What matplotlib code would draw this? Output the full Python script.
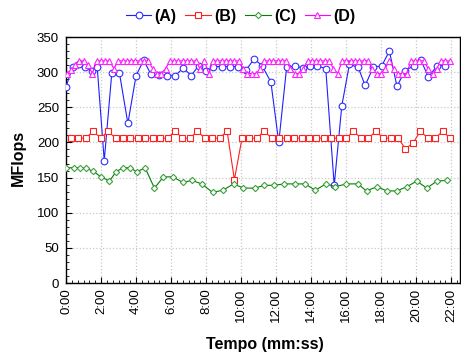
import matplotlib
matplotlib.use("Agg")
import matplotlib.pyplot as plt
from matplotlib.ticker import MultipleLocator, FuncFormatter

plt.rcParams['font.family'] = ['Liberation Sans', 'DejaVu Sans']

# ---- data (time in seconds, values in MFlops) ----
t_a = [0, 23, 45, 66, 88, 107, 131, 157, 183, 212, 240, 266, 291, 319, 345, 374, 402, 429,
       454, 480, 505, 534, 562, 591, 617, 645, 672, 702, 729, 756, 785, 811, 835, 861, 890,
       919, 945, 971, 1001, 1025, 1053, 1082, 1108, 1134, 1162, 1191, 1216, 1242, 1271, 1298]
v_a = [279, 308, 312, 307, 302, 307, 174, 299, 299, 227, 295, 317, 297, 296, 295, 295, 306, 295,
       309, 301, 308, 308, 308, 308, 303, 319, 309, 286, 200, 307, 309, 306, 309, 309, 305,
       139, 252, 311, 307, 281, 307, 309, 330, 280, 302, 309, 317, 293, 309, 309]

t_b = [17, 42, 68, 93, 119, 144, 170, 195, 221, 246, 272, 297, 323, 348, 374, 399, 425, 450,
       476, 501, 526, 552, 577, 603, 628, 654, 679, 705, 730, 756, 781, 807, 832, 858, 883,
       909, 934, 960, 985, 1011, 1036, 1062, 1087, 1112, 1138, 1163, 1189, 1214, 1240, 1265,
       1291, 1316]
v_b = [206, 206, 206, 216, 206, 216, 206, 206, 206, 206, 206, 206, 206, 206, 216, 206, 206, 216,
       206, 206, 206, 216, 147, 206, 206, 206, 216, 206, 206, 206, 206, 206, 206, 206, 206,
       206, 206, 206, 216, 206, 206, 216, 206, 206, 206, 191, 199, 216, 206, 206, 216, 206]

t_c = [0, 26, 48, 69, 93, 120, 149, 171, 195, 219, 243, 271, 303, 334, 367, 400, 431, 465,
       502, 538, 574, 608, 646, 680, 714, 748, 783, 819, 854, 891, 923, 961, 999, 1030, 1065,
       1100, 1134, 1168, 1202, 1236, 1271, 1306]
v_c = [164, 164, 164, 163, 159, 151, 145, 158, 164, 164, 158, 164, 135, 151, 151, 143, 146, 141,
       129, 132, 141, 135, 135, 139, 139, 141, 141, 141, 132, 141, 137, 141, 141, 131, 137,
       131, 131, 137, 145, 135, 145, 146]

t_d = [2, 17, 31, 46, 61, 76, 90, 105, 120, 135, 149, 164, 179, 194, 208, 223, 238, 253, 267,
       282, 297, 312, 326, 341, 356, 371, 385, 400, 415, 430, 444, 459, 474, 489, 503, 518,
       533, 548, 562, 577, 592, 607, 621, 636, 651, 666, 680, 695, 710, 725, 739, 754, 769,
       784, 798, 813, 828, 843, 857, 872, 887, 902, 916, 931, 946, 961, 975, 990, 1005, 1020,
       1034, 1049, 1064, 1079, 1093, 1108, 1123, 1138, 1152, 1167, 1182, 1197, 1211, 1226,
       1241, 1256, 1270, 1285, 1300, 1315]
v_d = [298, 303, 310, 316, 316, 310, 298, 316, 316, 316, 316, 305, 316, 316, 316, 316, 316, 316,
       316, 316, 305, 298, 298, 305, 316, 316, 316, 316, 316, 316, 316, 305, 316, 298, 316,
       316, 316, 316, 316, 316, 316, 305, 298, 298, 298, 305, 316, 316, 316, 316, 316, 316,
       305, 298, 298, 305, 316, 316, 316, 316, 316, 316, 305, 298, 316, 316, 316, 316, 316,
       316, 316, 305, 298, 298, 305, 316, 305, 298, 298, 298, 316, 316, 316, 316, 305, 298,
       305, 316, 316, 316]

series_labels = ['(A)', '(B)', '(C)', '(D)']
x_ticks_sec = list(range(0, 1321, 120))
y_ticks = list(range(0, 351, 50))

# ---- figure ----
fig = plt.figure(figsize=(4.61, 3.54), dpi=100)
ax = fig.add_axes([66/461, 71/354, 394/461, 246/354])

lw = 0.8
mew = 0.8
ax.plot(t_a, v_a, color='#1f1fff', lw=lw, marker='o', ms=4.8, mfc='white', mec='#3030ff',
        mew=mew, label=series_labels[0], zorder=3)
ax.plot(t_b, v_b, color='#ff1f1f', lw=lw, marker='s', ms=4.2, mfc='white', mec='#ff2020',
        mew=mew, label=series_labels[1], zorder=3)
ax.plot(t_c, v_c, color='#008000', lw=lw, marker='D', ms=3.2, mfc='white', mec='#40a040',
        mew=mew, label=series_labels[2], zorder=3)
ax.plot(t_d, v_d, color='#ff00ff', lw=lw, marker='^', ms=5.0, mfc='white', mec='#ff20ff',
        mew=mew, label=series_labels[3], zorder=3)

ax.set_xlim(0, 1350)
ax.set_ylim(0, 350)
ax.set_xticks(x_ticks_sec)
ax.xaxis.set_major_formatter(FuncFormatter(lambda v, p: f"{int(v)//60}:{int(v)%60:02d}"))
ax.xaxis.set_minor_locator(MultipleLocator(20))
ax.set_yticks(y_ticks)
ax.yaxis.set_minor_locator(MultipleLocator(10))

ax.tick_params(which='both', direction='in', top=False, right=False, color='black')
ax.tick_params(which='major', length=4, width=0.8)
ax.tick_params(which='minor', length=2, width=0.6)
ax.tick_params(axis='y', labelsize=9.5, pad=5)
ax.tick_params(axis='x', labelsize=9.5, pad=4, labelrotation=90)

ax.grid(True, which='major', color='#c8c8c8', linestyle=':', linewidth=0.9)
ax.set_axisbelow(True)
for s in ax.spines.values():
    s.set_color('black')
    s.set_linewidth(1.0)

ax.set_xlabel('Tempo (mm:ss)', fontsize=11.5, fontweight='bold', va='center')
ax.xaxis.set_label_coords(0.505, -0.248)
ax.set_ylabel('MFlops', fontsize=11.5, fontweight='bold', va='center')
ax.yaxis.set_label_coords(-0.122, 0.508)

fig.legend(loc='center', bbox_to_anchor=(240.7/461, 1 - 16/354), ncol=4, frameon=False,
           prop={'size': 11.5, 'weight': 'bold'}, handlelength=1.6, handletextpad=0.2,
           columnspacing=0.55, numpoints=1, borderpad=0, borderaxespad=0)

fig.savefig('out.png', dpi=100)
